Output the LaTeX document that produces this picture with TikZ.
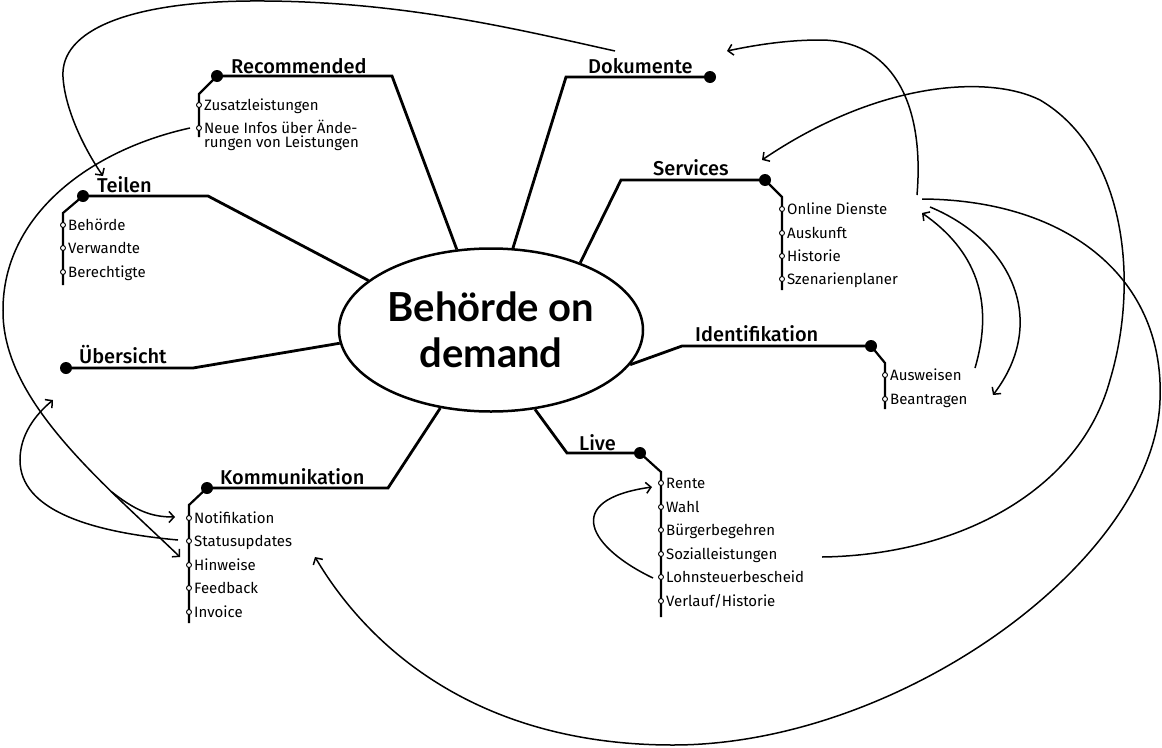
\documentclass[tikz,border=0pt]{standalone}
\usepackage{fontspec}
\setmainfont{Fira Sans}
\newfontfamily\titlefont{Lato}
\newfontfamily\headfont{Fira Sans Medium}
\usetikzlibrary{shapes.geometric,arrows.meta}

\begin{document}
\begin{tikzpicture}[x=1pt, y=-1pt,
  core/.style={ellipse, draw, line width=2.5pt, minimum width=304pt, minimum height=163pt, inner sep=0pt, align=center, font=\titlefont\bfseries\fontsize{40}{46}\selectfont},
  branch/.style={line width=2.8pt},
  stem/.style={line width=2.2pt},
  hub/.style={circle, fill=black, inner sep=0pt, minimum size=12pt},
  stop/.style={circle, draw=black, fill=white, line width=0.9pt, inner sep=0pt, minimum size=5pt},
  head/.style={anchor=base west, inner sep=0pt, font=\headfont\fontsize{20}{22}\selectfont},
  item/.style={anchor=base west, inner sep=0pt, align=left, font=\fontsize{15}{14}\selectfont},
  link/.style={line width=1.5pt, -{Straight Barb[length=5pt,width=11pt]}}]
\useasboundingbox (0,0) rectangle (1162,747);

\node[core] (core) at (491,330) {Behörde on\\demand};

% Recommended
\node[hub] (rec) at (217,76) {};
\coordinate (rec-k) at (392,76);
\coordinate (rec-e) at (199,137);
\draw[branch] (rec.center) -- (rec-k) -- (core.113);
\node[head] (rec-l) at (231,73) {Recommended};
\draw[stem] (rec.center) -- (199,94) -- (rec-e);
\node[stop] (rec1) at (199,105) {};
\node[item] (rec1t) at (204,110) {Zusatzleistungen};
\node[stop] (rec2) at (199,128) {};
\node[item] (rec2t) at (204,147) {Neue Infos über Ände-\\rungen von Leistungen};

% Teilen
\node[hub] (tei) at (83,196) {};
\coordinate (tei-k) at (208,196);
\coordinate (tei-e) at (63,285);
\draw[branch] (tei.center) -- (tei-k) -- (core.158);
\node[head] (tei-l) at (97,192) {Teilen};
\draw[stem] (tei.center) -- (63,213) -- (tei-e);
\node[stop] (tei1) at (63,225) {};
\node[item] (tei1t) at (68,230) {Behörde};
\node[stop] (tei2) at (63,248) {};
\node[item] (tei2t) at (68,253) {Verwandte};
\node[stop] (tei3) at (63,272) {};
\node[item] (tei3t) at (68,277) {Berechtigte};

% Uebersicht
\node[hub] (ueb) at (66,368) {};
\coordinate (ueb-k) at (193,368);
\draw[branch] (ueb.center) -- (ueb-k) -- (core.185);
\node[head] (ueb-l) at (79,363) {Übersicht};

% Kommunikation
\node[hub] (kom) at (207,488) {};
\coordinate (kom-k) at (388,488);
\coordinate (kom-e) at (189,623);
\draw[branch] (kom.center) -- (kom-k) -- (core.237);
\node[head] (kom-l) at (220,484) {Kommunikation};
\draw[stem] (kom.center) -- (189,505) -- (kom-e);
\node[stop] (kom1) at (189,518) {};
\node[item] (kom1t) at (194,523) {Notifikation};
\node[stop] (kom2) at (189,541) {};
\node[item] (kom2t) at (194,546) {Statusupdates};
\node[stop] (kom3) at (189,565) {};
\node[item] (kom3t) at (194,570) {Hinweise};
\node[stop] (kom4) at (189,588) {};
\node[item] (kom4t) at (194,593) {Feedback};
\node[stop] (kom5) at (189,612) {};
\node[item] (kom5t) at (194,617) {Invoice};

% Dokumente
\node[hub] (dok) at (710,77) {};
\coordinate (dok-k) at (566,77);
\draw[branch] (dok.center) -- (dok-k) -- (core.75);
\node[head] (dok-l) at (588,73) {Dokumente};

% Services
\node[hub] (ser) at (765,180) {};
\coordinate (ser-k) at (621,180);
\coordinate (ser-e) at (782,290);
\draw[branch] (ser.center) -- (ser-k) -- (core.37);
\node[head] (ser-l) at (653,175) {Services};
\draw[stem] (ser.center) -- (782,197) -- (ser-e);
\node[stop] (ser1) at (782,209) {};
\node[item] (ser1t) at (787,214) {Online Dienste};
\node[stop] (ser2) at (782,233) {};
\node[item] (ser2t) at (787,238) {Auskunft};
\node[stop] (ser3) at (782,256) {};
\node[item] (ser3t) at (787,261) {Historie};
\node[stop] (ser4) at (782,279) {};
\node[item] (ser4t) at (787,284) {Szenarienplaner};

% Identifikation
\node[hub] (idf) at (871,346) {};
\coordinate (idf-k) at (682,346);
\coordinate (idf-e) at (885,409);
\draw[branch] (idf.center) -- (idf-k) -- (core.346);
\node[head] (idf-l) at (695,341) {Identifikation};
\draw[stem] (idf.center) -- (885,363) -- (idf-e);
\node[stop] (idf1) at (885,375) {};
\node[item] (idf1t) at (890,380) {Ausweisen};
\node[stop] (idf2) at (885,399) {};
\node[item] (idf2t) at (890,404) {Beantragen};

% Live
\node[hub] (liv) at (640,453) {};
\coordinate (liv-k) at (567,453);
\coordinate (liv-e) at (661,617);
\draw[branch] (liv.center) -- (liv-k) -- (core.299);
\node[head] (liv-l) at (579,450) {Live};
\draw[stem] (liv.center) -- (661,472) -- (liv-e);
\node[stop] (liv1) at (661,483) {};
\node[item] (liv1t) at (666,488) {Rente};
\node[stop] (liv2) at (661,507) {};
\node[item] (liv2t) at (666,512) {Wahl};
\node[stop] (liv3) at (661,530) {};
\node[item] (liv3t) at (666,535) {Bürgerbegehren};
\node[stop] (liv4) at (661,554) {};
\node[item] (liv4t) at (666,559) {Sozialleistungen};
\node[stop] (liv5) at (661,577) {};
\node[item] (liv5t) at (666,582) {Lohnsteuerbescheid};
\node[stop] (liv6) at (661,601) {};
\node[item] (liv6t) at (666,606) {Verlauf/Historie};

% Verweise
\coordinate (dok-out) at (615,51);
\coordinate (tei-in) at (103,176);
\coordinate (rec-out) at (190,128);
\coordinate (kom-in) at (180,557);
\coordinate (kom-in2) at (175,517);
\coordinate (kom-out) at (178,540);
\coordinate (ueb-in) at (53,400);
\coordinate (ser-out) at (917,195);
\coordinate (dok-in) at (727,51);
\coordinate (liv-out) at (822,557);
\coordinate (ser-in) at (762,160);
\coordinate (ser-out2) at (922,199);
\coordinate (kom-in3) at (315,557);
\coordinate (idf-out) at (975,368);
\coordinate (ser-in2) at (922,213);
\coordinate (ser-out3) at (930,207);
\coordinate (idf-in) at (993,395);
\coordinate (liv-out2) at (653,578);
\coordinate (liv-in) at (652,487);

\draw[link] (dok-out) .. controls (520,30) and (400,0) .. (250,1) .. controls (130,2) and (60,30) .. (63,77) .. controls (65,110) and (85,150) .. (tei-in);
\draw[link] (rec-out) .. controls (90,150) and (3,215) .. (3,310) .. controls (2,400) and (100,480) .. coordinate[pos=0.72] (fork) (kom-in);
\draw[link] (fork) .. controls (135,510) and (150,517) .. (kom-in2);
\draw[link] (kom-out) .. controls (90,532) and (20,510) .. (20,460) .. controls (20,435) and (35,415) .. (ueb-in);
\draw[link] (ser-out) .. controls (925,100) and (890,40) .. (820,40) .. controls (790,40) and (760,44) .. (dok-in);
\draw[link] (liv-out) .. controls (960,555) and (1080,490) .. (1110,380) .. controls (1140,280) and (1125,150) .. (1040,100) .. controls (990,75) and (880,80) .. (ser-in);
\draw[link] (ser-out2) .. controls (1070,200) and (1165,280) .. (1160,400) .. controls (1155,560) and (900,745) .. (673,745) .. controls (480,745) and (370,650) .. (kom-in3);
\draw[link] (idf-out) .. controls (995,300) and (975,250) .. (ser-in2);
\draw[link] (ser-out3) .. controls (1010,240) and (1050,320) .. (idf-in);
\draw[link] (liv-out2) .. controls (590,548) and (560,500) .. (liv-in);
\end{tikzpicture}
\end{document}
